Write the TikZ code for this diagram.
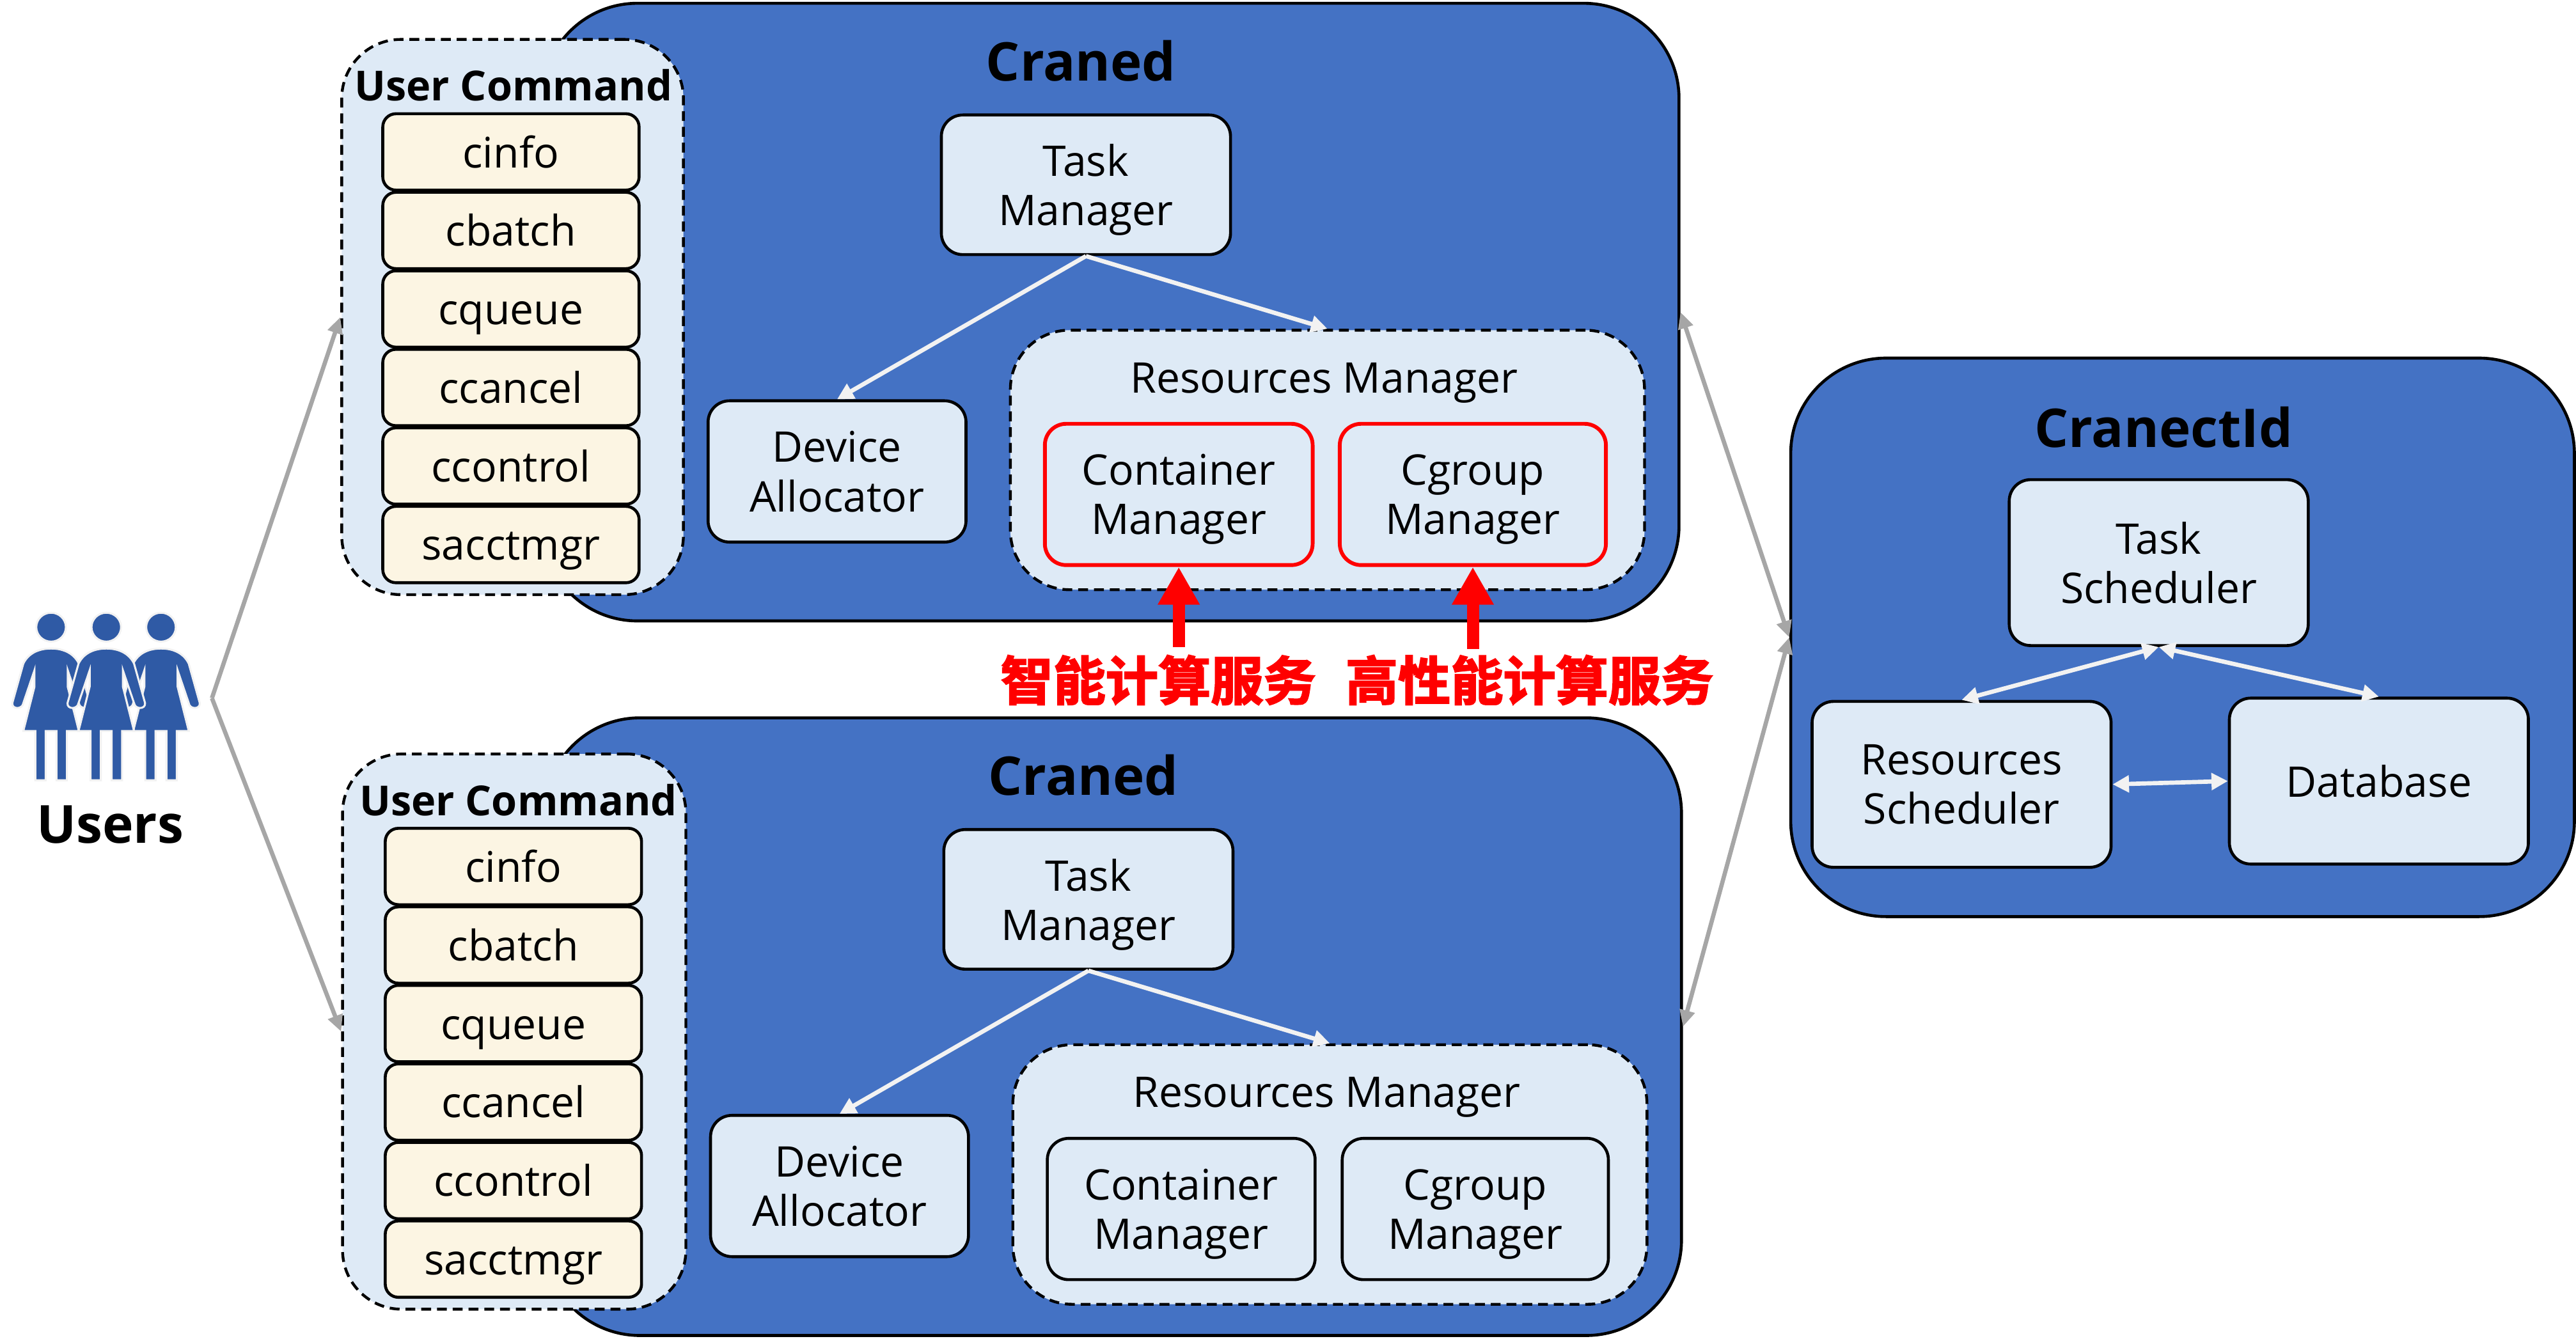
\documentclass[tikz,border=0pt]{standalone}
\usepackage{fontspec}
\setmainfont{Open Sans}
\newfontfamily\cjk{Noto Sans CJK SC}[BoldFont={Noto Sans CJK SC Bold},BoldFeatures={FakeBold=2.5}]
\usetikzlibrary{positioning,arrows.meta}
\definecolor{cranedblue}{HTML}{4472C4}
\definecolor{paleblue}{HTML}{DEEAF6}
\definecolor{cream}{HTML}{FCF5E3}
\definecolor{linkwhite}{HTML}{F2F2F2}
\definecolor{linkgray}{HTML}{A6A6A6}
\definecolor{peopleblue}{HTML}{2F5AA5}
\tikzset{
  bigbox/.style={rectangle,rounded corners=58pt,draw,line width=1.8pt,fill=cranedblue},
  group/.style={rectangle,rounded corners=36pt,draw,dash pattern=on 6pt off 3.6pt,line width=1.7pt,fill=paleblue},
  module/.style={rectangle,rounded corners=13pt,draw,line width=1.8pt,fill=paleblue,align=center,
    text depth=0pt,font=\fontsize{25.7}{30}\selectfont},
  redmodule/.style={module,draw=red,line width=2.3pt},
  grouptitle/.style={text depth=0pt,font=\fontsize{25.7}{30}\selectfont},
  cmd/.style={rectangle,rounded corners=8pt,draw,line width=1.8pt,fill=cream,minimum width=156pt,
    minimum height=46.5pt,text height=25pt,text depth=6pt,font=\fontsize{25.7}{30}\selectfont},
  whitelink/.style={draw=linkwhite,line width=2.6pt,>={Stealth[inset=0pt,length=10pt,width=10pt]}},
  graylink/.style={draw=linkgray,line width=2.6pt,>={Stealth[inset=0pt,length=10pt,width=9pt]}},
  redlink/.style={draw=red,line width=7.4pt,->,>={Stealth[inset=0pt,length=23pt,width=24pt]}},
  title/.style={font=\fontsize{32.5}{36}\selectfont\bfseries},
  cmdtitle/.style={font=\fontsize{25.2}{30}\selectfont\bfseries},
  service/.style={text=red,font=\fontsize{32}{36}\selectfont\cjk\bfseries},
}
% one figure, drawn at x = #1
\newcommand{\drawperson}[1]{
  \begin{scope}[shift={(#1,0)},fill=peopleblue,draw=linkwhite,line width=1.2pt]
    \filldraw (0,381.8) ellipse (9 and 8.8);
    \filldraw (0,394.8) .. controls (-8,394.8) and (-14,398) .. (-16.9,404)
      -- (-23.6,428) .. controls (-24,432) and (-17.4,432) .. (-16.9,428)
      -- (-10.1,408) -- (-10.1,418) -- (-16.9,445) -- (-9.6,445) -- (-9.6,475)
      -- (-3.3,475) -- (-3.3,445) -- (3.3,445) -- (3.3,475) -- (9.6,475) -- (9.6,445)
      -- (16.9,445) -- (10.1,418) -- (10.1,408) -- (16.9,428)
      .. controls (17.4,432) and (24,432) .. (23.6,428)
      -- (16.9,404) .. controls (14,398) and (8,394.8) .. (0,394.8) -- cycle;
  \end{scope}
}
\begin{document}
\begin{tikzpicture}[x=1pt,y=-1pt,node distance=47.8pt]
  \useasboundingbox (0,0) rectangle (1568,815.1);

  % upper Craned
  \node[bigbox,minimum width=692pt,minimum height=376pt] (craneda) at (676,190) {};
  \node[group,minimum width=208pt,minimum height=338pt] (cmdsa) at (312,193) {};
  \node[cmdtitle] (cmdtitlea) at (312.5,52) {User Command};
  \node[cmd] (cinfoa) at (311,92.5) {cinfo};
  \node[cmd] (cbatcha) [below of=cinfoa] {cbatch};
  \node[cmd] (cqueuea) [below of=cbatcha] {cqueue};
  \node[cmd] (ccancela) [below of=cqueuea] {ccancel};
  \node[cmd] (ccontrola) [below of=ccancela] {ccontrol};
  \node[cmd] (sacctmgra) [below of=ccontrola] {sacctmgr};
  \node[title] (titlea) at (658,37) {Craned};
  \node[module,minimum width=176pt,minimum height=85pt] (taska) at (661,112.5) {Task\\Manager};
  \node[module,minimum width=157pt,minimum height=86pt] (devicea) at (509.5,287) {Device\\Allocator};
  \node[group,minimum width=386pt,minimum height=158pt] (resa) at (808,280) {};
  \node[grouptitle] (restitlea) at (806,230) {Resources Manager};
  \node[redmodule,minimum width=163pt,minimum height=86pt] (conta) at (717.5,301) {Container\\Manager};
  \node[redmodule,minimum width=162pt,minimum height=86pt] (cgroupa) at (896.5,301) {Cgroup\\Manager};
  \draw[whitelink,->] (taska.south) -- (devicea.north);
  \draw[whitelink,->] (taska.south) -- (resa.north);

  % lower Craned
  \node[bigbox,minimum width=692pt,minimum height=376pt] (cranedb) at (677.5,625) {};
  \node[group,minimum width=209pt,minimum height=338pt] (cmdsb) at (313,628) {};
  \node[cmdtitle] (cmdtitleb) at (315.5,487) {User Command};
  \node[cmd] (cinfob) at (312.5,527.5) {cinfo};
  \node[cmd] (cbatchb) [below of=cinfob] {cbatch};
  \node[cmd] (cqueueb) [below of=cbatchb] {cqueue};
  \node[cmd] (ccancelb) [below of=cqueueb] {ccancel};
  \node[cmd] (ccontrolb) [below of=ccancelb] {ccontrol};
  \node[cmd] (sacctmgrb) [below of=ccontrolb] {sacctmgr};
  \node[title] (titleb) at (659.5,472) {Craned};
  \node[module,minimum width=176pt,minimum height=85pt] (taskb) at (662.5,547.5) {Task\\Manager};
  \node[module,minimum width=157pt,minimum height=86pt] (deviceb) at (511,722) {Device\\Allocator};
  \node[group,minimum width=386pt,minimum height=158pt] (resb) at (809.5,715) {};
  \node[grouptitle] (restitleb) at (807.5,665) {Resources Manager};
  \node[module,minimum width=163pt,minimum height=86pt] (contb) at (719,736) {Container\\Manager};
  \node[module,minimum width=162pt,minimum height=86pt] (cgroupb) at (898,736) {Cgroup\\Manager};
  \draw[whitelink,->] (taskb.south) -- (deviceb.north);
  \draw[whitelink,->] (taskb.south) -- (resb.north);

  % CranectId
  \node[bigbox,minimum width=477pt,minimum height=340pt] (ctld) at (1328.5,388) {};
  \node[title] (ctldtitle) at (1317,260) {CranectId};
  \node[module,minimum width=182pt,minimum height=101pt] (sched) at (1314,342.5) {Task\\Scheduler};
  \node[module,minimum width=182pt,minimum height=101pt] (ressched) at (1194,477.5) {Resources\\Scheduler};
  \node[module,minimum width=182pt,minimum height=101pt] (db) at (1448,475.5) {Database};
  \draw[whitelink,<->] (sched.south) -- (ressched.north);
  \draw[whitelink,<->] (sched.south) -- (db.north);
  \draw[whitelink,<->] (ressched.east) -- (db.west);

  % users
  \drawperson{31.1}
  \drawperson{98}
  \drawperson{64.7}
  \node[font=\fontsize{32}{36}\selectfont\bfseries] (users) at (67,502) {Users};
  \coordinate (fork) at (129,425);
  \draw[graylink,->] (fork) -- (cmdsa.west);
  \draw[graylink,->] (fork) -- (cmdsb.west);
  \draw[graylink,<->] (craneda.east) -- (ctld.west);
  \draw[graylink,<->] (cranedb.east) -- (ctld.west);

  % red marks
  \coordinate (marka) at (717.5,394);
  \coordinate (markb) at (896.5,395);
  \draw[redlink] (marka) -- (conta.south);
  \draw[redlink] (markb) -- (cgroupa.south);
  \node[service] (aiserv) at (705,414) {智能计算服务};
  \node[service] (hpcserv) at (931,414) {高性能计算服务};
\end{tikzpicture}
\end{document}
